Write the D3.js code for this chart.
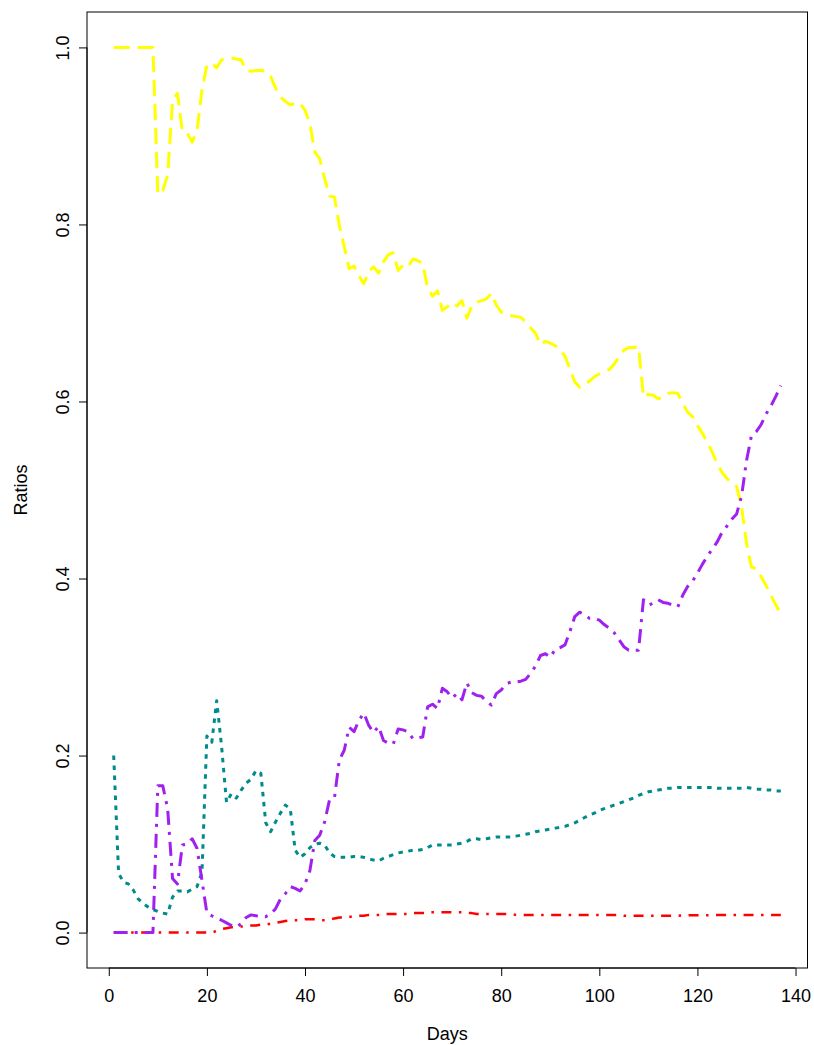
<!DOCTYPE html>
<html>
<head>
<meta charset="utf-8">
<script src="https://cdn.jsdelivr.net/npm/d3@7"></script>
<style>
  html, body { margin: 0; padding: 0; background: #fff; }
  svg { display: block; }
  text { font-family: "Liberation Sans", Arial, Helvetica, sans-serif; }
</style>
</head>
<body>
<svg id="chart" width="814" height="1045"></svg>
<script>
// ---- data ----
const days = d3.range(1, 138);

const yellowSeries = [
  1,1,1,1,1,1,1,1,1,
  0.834,0.838,0.856,0.940,0.948,0.905,0.903,0.893,0.906,0.952,
  0.980,0.982,0.977,0.986,0.988,0.988,0.987,0.986,0.974,0.973,
  0.974,0.974,0.973,0.967,0.954,0.944,0.939,0.935,0.937,0.937,
  0.929,0.914,0.882,0.874,0.852,0.832,0.831,0.799,0.775,0.750,
  0.753,0.742,0.733,0.747,0.752,0.745,0.758,0.766,0.768,0.748,
  0.754,0.752,0.761,0.759,0.756,0.728,0.719,0.725,0.703,0.707,
  0.712,0.708,0.714,0.694,0.708,0.712,0.714,0.716,0.722,0.709,
  0.701,0.698,0.697,0.696,0.695,0.690,0.683,0.677,0.664,0.668,
  0.666,0.663,0.659,0.651,0.637,0.622,0.616,0.619,0.623,0.628,
  0.631,0.634,0.636,0.642,0.650,0.658,0.661,0.661,0.662,0.605,
  0.608,0.607,0.603,0.605,0.609,0.610,0.609,0.598,0.588,0.583,
  0.573,0.564,0.554,0.543,0.530,0.520,0.513,0.508,0.504,0.481,
  0.440,0.413,0.411,0.402,0.392,0.381,0.370,0.360
];

const tealSeries = [
  0.200,0.067,0.057,0.055,0.048,0.038,0.033,0.029,0.026,
  0.024,0.022,0.021,0.040,0.047,0.047,0.046,0.049,0.052,0.068,
  0.222,0.215,0.262,0.210,0.147,0.157,0.152,0.161,0.169,0.173,
  0.183,0.180,0.124,0.114,0.125,0.135,0.144,0.140,0.093,0.085,
  0.089,0.096,0.100,0.101,0.099,0.090,0.086,0.085,0.085,0.085,
  0.086,0.086,0.085,0.083,0.082,0.081,0.084,0.086,0.088,0.090,
  0.091,0.092,0.093,0.093,0.094,0.096,0.099,0.099,0.099,0.099,
  0.099,0.100,0.101,0.103,0.106,0.106,0.105,0.106,0.107,0.108,
  0.108,0.108,0.108,0.109,0.110,0.111,0.112,0.114,0.115,0.116,
  0.117,0.118,0.119,0.120,0.122,0.124,0.127,0.130,0.133,0.135,
  0.138,0.140,0.142,0.144,0.146,0.148,0.150,0.152,0.155,0.157,
  0.159,0.160,0.161,0.162,0.163,0.163,0.164,0.164,0.164,0.164,
  0.164,0.164,0.164,0.164,0.163,0.163,0.163,0.163,0.163,0.163,
  0.164,0.163,0.162,0.162,0.161,0.161,0.160,0.160
];

const purpleSeries = [
  0,0,0,0,0,0,0,0,0,
  0.166,0.166,0.140,0.061,0.055,0.099,0.100,0.106,0.095,0.059,
  0.022,0.019,0.016,0.014,0.011,0.008,0.006,0.010,0.017,0.020,
  0.019,0.018,0.018,0.021,0.027,0.038,0.044,0.052,0.050,0.047,
  0.055,0.070,0.104,0.110,0.125,0.150,0.152,0.195,0.206,0.232,
  0.227,0.240,0.248,0.234,0.226,0.233,0.217,0.214,0.213,0.230,
  0.229,0.227,0.219,0.220,0.221,0.255,0.258,0.253,0.276,0.272,
  0.265,0.270,0.263,0.282,0.271,0.268,0.267,0.261,0.257,0.270,
  0.274,0.281,0.283,0.283,0.284,0.286,0.293,0.301,0.313,0.315,
  0.311,0.320,0.322,0.325,0.340,0.357,0.362,0.359,0.355,0.355,
  0.353,0.348,0.344,0.339,0.331,0.323,0.319,0.319,0.319,0.376,
  0.370,0.372,0.376,0.373,0.372,0.370,0.368,0.381,0.391,0.397,
  0.406,0.416,0.425,0.433,0.441,0.452,0.459,0.467,0.473,0.493,
  0.533,0.561,0.566,0.574,0.586,0.595,0.606,0.618
];

const redSeries = [
  0,0,0,0,0,0,0,0,0,0,0,0,0,0,0,0,0,0,0,0,0,
  0.002,0.004,0.005,0.006,0.006,0.007,0.007,0.008,
  0.008,0.009,0.009,0.010,0.011,0.012,0.013,0.014,0.014,0.014,
  0.015,0.015,0.015,0.014,0.014,0.015,0.016,0.017,0.017,0.018,
  0.018,0.019,0.019,0.020,0.020,0.020,0.021,0.021,0.021,0.021,
  0.021,0.021,0.022,0.022,0.022,0.022,0.023,0.023,0.023,0.023,
  0.023,0.023,0.023,0.022,0.022,0.021,0.021,0.021,0.021,0.021,
  0.021,0.021,0.021,0.020,0.020,0.020,0.020,0.020,0.020,0.020,
  0.020,0.020,0.020,0.020,0.020,0.020,0.020,0.020,0.020,0.020,
  0.020,0.020,0.020,0.020,0.020,0.019,0.019,0.019,0.019,0.019,
  0.019,0.019,0.019,0.019,0.019,0.019,0.019,0.0195,0.0195,0.0195,
  0.0195,0.0195,0.0195,0.020,0.020,0.020,0.020,0.020,0.020,0.020,
  0.020,0.020,0.020,0.020,0.020,0.020,0.020,0.020
];

const xTicks = [0, 20, 40, 60, 80, 100, 120, 140];
const yTicks = [0, 0.2, 0.4, 0.6, 0.8, 1.0];
const xLabel = "Days";
const yLabel = "Ratios";

// ---- layout ----
const svg = d3.select("#chart");
const L = 87, R = 807.5, T = 12, B = 968;

const x = d3.scaleLinear().domain([1 - 0.04 * 136, 137 + 0.04 * 136]).range([L, R]);
const y = d3.scaleLinear().domain([-0.04, 1.04]).range([B, T]);

svg.append("rect").attr("x", 0).attr("y", 0).attr("width", 814).attr("height", 1045).attr("fill", "#fff");

const seriesDefs = [
  { vals: yellowSeries, color: "#FFFF00", width: 3,   dash: "16 8" },
  { vals: tealSeries,   color: "#008B8B", width: 3,   dash: "4.5 5.5" },
  { vals: redSeries,    color: "#FF0000", width: 2.5, dash: "10 7.5 2.5 7.5" },
  { vals: purpleSeries, color: "#A020F0", width: 3,   dash: "14 7 3 7" }
];

const line = d3.line().x(d => x(d[0])).y(d => y(d[1]));

const plot = svg.append("g");
seriesDefs.forEach(s => {
  plot.append("path")
    .datum(days.map((d, i) => [d, s.vals[i]]))
    .attr("d", line)
    .attr("fill", "none")
    .attr("stroke", s.color)
    .attr("stroke-width", s.width)
    .attr("stroke-dasharray", s.dash)
    .attr("stroke-linejoin", "round")
    .attr("stroke-linecap", "butt");
});

// box
svg.append("rect")
  .attr("x", L).attr("y", T).attr("width", R - L).attr("height", B - T)
  .attr("fill", "none").attr("stroke", "#000").attr("stroke-width", 1);

// x axis (R-style: axis line spans first to last tick only)
const xa = svg.append("g").attr("transform", `translate(0,${B})`)
  .call(d3.axisBottom(x).tickValues(xTicks).tickSize(8).tickSizeOuter(0).tickPadding(13).tickFormat(d3.format("d")));
xa.select(".domain").remove();
xa.append("line")
  .attr("x1", x(xTicks[0])).attr("x2", x(xTicks[xTicks.length - 1]))
  .attr("y1", 0).attr("y2", 0).attr("stroke", "#000");
xa.selectAll("line").attr("stroke", "#000");
xa.selectAll("text").attr("font-size", 18).attr("fill", "#000")
  .attr("font-family", "'Liberation Sans', Arial, sans-serif");

// y axis
const ya = svg.append("g").attr("transform", `translate(${L},0)`)
  .call(d3.axisLeft(y).tickValues(yTicks).tickSize(8).tickSizeOuter(0).tickFormat(d3.format(".1f")));
ya.select(".domain").remove();
ya.append("line")
  .attr("y1", y(yTicks[0])).attr("y2", y(yTicks[yTicks.length - 1]))
  .attr("x1", 0).attr("x2", 0).attr("stroke", "#000");
ya.selectAll("line").attr("stroke", "#000");
ya.selectAll("text")
  .attr("font-size", 18).attr("fill", "#000")
  .attr("font-family", "'Liberation Sans', Arial, sans-serif")
  .attr("transform", "rotate(-90)")
  .attr("x", 0).attr("y", -18).attr("dy", 0)
  .attr("text-anchor", "middle");

// axis titles
svg.append("text")
  .attr("x", (L + R) / 2).attr("y", 1039.5)
  .attr("text-anchor", "middle").attr("font-size", 18).attr("fill", "#000")
  .text(xLabel);

svg.append("text")
  .attr("transform", `translate(27,${(T + B) / 2}) rotate(-90)`)
  .attr("text-anchor", "middle").attr("font-size", 18).attr("fill", "#000")
  .text(yLabel);
</script>
</body>
</html>
